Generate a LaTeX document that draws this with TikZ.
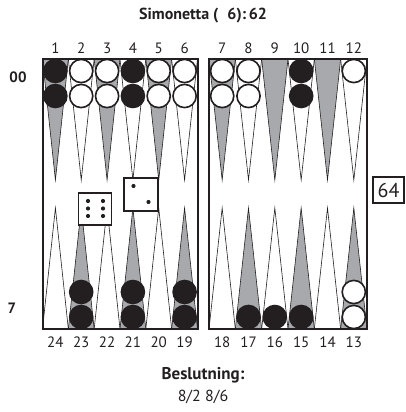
\documentclass[tikz,border=0pt]{standalone}
\usepackage{fontspec}
\setmainfont{PT Sans}
\definecolor{ptgray}{RGB}{167,169,172}
\definecolor{ink}{RGB}{35,31,32}
\begin{document}
\begin{tikzpicture}[x=1pt,y=-1pt,
  tri/.style={draw=ink, line width=0.6pt},
  blk/.style={fill=ink, draw=ink, line width=1.4pt},
  wht/.style={fill=white, draw=ink, line width=1.6pt},
  board/.style={draw=ink, line width=2pt},
  num/.style={font=\fontsize{15}{15}\selectfont, text=ink, inner sep=0pt},
  die/.style={draw=ink, fill=white, line width=1.4pt},
  pip/.style={fill=ink, draw=none}]
\useasboundingbox (0,0) rectangle (406,412);
% points
\foreach \xa/\w in {42.5/25.83, 209/26.33} {
  \foreach \i in {0,...,5} {
    \pgfmathsetmacro\l{\xa+\i*\w}
    \pgfmathsetmacro\r{\xa+(\i+1)*\w}
    \pgfmathsetmacro\c{\xa+(\i+0.5)*\w}
    \ifodd\i \def\topc{white}\def\botc{ptgray}\else\def\topc{ptgray}\def\botc{white}\fi
    \filldraw[tri, fill=\topc] (\l,59) -- (\c,180) -- (\r,59) -- cycle;
    \filldraw[tri, fill=\botc] (\l,329) -- (\c,208) -- (\r,329) -- cycle;
  }
}
% checkers
\foreach \x/\y/\s in {55.4/71/blk, 55.4/96/blk, 81.2/71/wht, 81.2/96/wht,
  107.1/71/wht, 107.1/96/wht, 132.9/71/blk, 132.9/96/blk,
  158.7/71/wht, 158.7/96/wht, 184.6/71/wht, 184.6/96/wht,
  222.2/71/wht, 222.2/96/wht, 248.5/71/wht, 248.5/96/wht,
  301.2/71/blk, 301.2/96/blk, 353.8/71/wht,
  81.2/317/blk, 81.2/292/blk, 132.9/317/blk, 132.9/292/blk,
  184.6/317/blk, 184.6/292/blk, 248.5/317/blk, 274.8/317/blk,
  301.2/317/blk, 353.8/317/wht, 353.8/292/wht} {
  \filldraw[\s] (\x,\y) circle (11.6);
}
% board
\draw[board] (42.5,59) rectangle (197.5,329);
\draw[board] (209,59) rectangle (367,329);
% dice
\node[die, minimum width=33pt, minimum height=32pt, inner sep=0pt] (d6) at (95,209) {};
\foreach \px/\py in {88/201, 103/201, 88/208.5, 103/208.5, 88/216, 103/216}
  \fill[pip] (\px,\py) circle (2.1);
\node[die, minimum width=34pt, minimum height=33pt, inner sep=0pt] (d2) at (141,194.5) {};
\fill[pip] (133.5,186) circle (2.1);
\fill[pip] (148.5,202) circle (2.1);
% cube
\node[draw=ink, line width=1.4pt, minimum width=31pt, minimum height=26pt, inner sep=0pt,
  font=\fontsize{20}{20}\selectfont, text=ink] (cube) at (388.5,190) {64};
% labels
\foreach \n/\x in {1/55.4, 2/81.2, 3/107.1, 4/132.9, 5/158.7, 6/184.6,
  7/222.2, 8/248.5, 9/274.8, 10/301.2, 11/327.5, 12/353.8}
  \node[num] (t\n) at (\x,48) {\n};
\foreach \n/\x in {24/55.4, 23/81.2, 22/107.1, 21/132.9, 20/158.7, 19/184.6,
  18/222.2, 17/248.5, 16/274.8, 15/301.2, 14/327.5, 13/353.8}
  \node[num] (b\n) at (\x,342) {\n};
\node[num, font=\fontsize{15}{15}\selectfont\bfseries] (top) at (18,77) {00};
\node[num, font=\fontsize{15}{15}\selectfont\bfseries] (bot) at (12,308) {7};
\node[num, font=\fontsize{16}{16}\selectfont\bfseries] (title) at (203,16) {Simonetta (\hspace{9pt}6):\,62};
\node[num, font=\fontsize{17}{17}\selectfont\bfseries] (dec) at (203,375) {Beslutning:};
\node[num, font=\fontsize{16}{16}\selectfont] (mv) at (203,397) {8/2 8/6};
\end{tikzpicture}
\end{document}
